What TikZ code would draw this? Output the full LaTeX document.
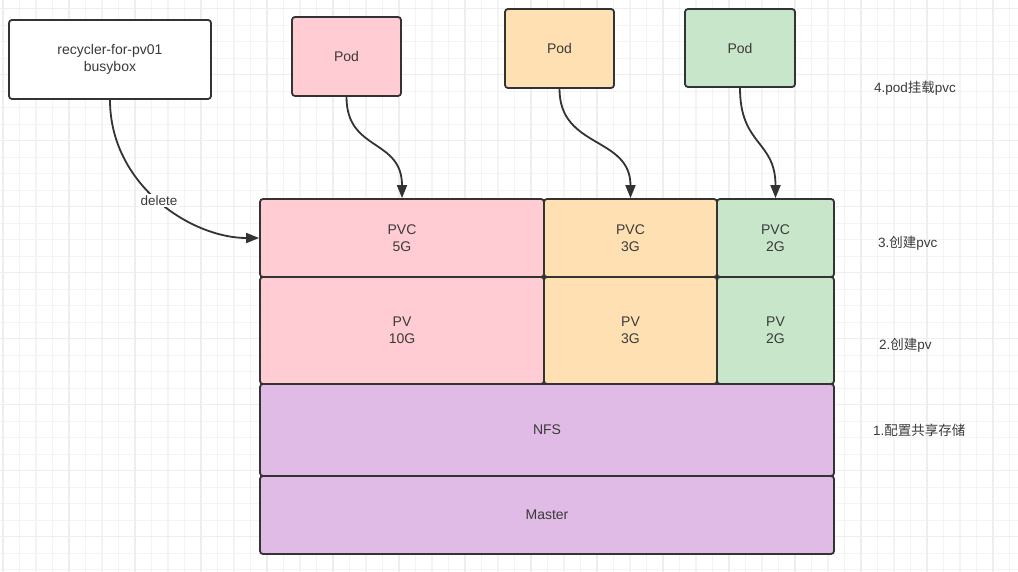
\documentclass[tikz,border=0pt]{standalone}
\usepackage{fontspec}
\setmainfont{Liberation Sans}
\newfontfamily\cjk{Noto Sans CJK SC}
\usetikzlibrary{arrows.meta,calc}
\definecolor{ln}{HTML}{333333}
\definecolor{txt}{HTML}{3A3A3A}
\definecolor{pinkf}{HTML}{FFCCD3}
\definecolor{orangef}{HTML}{FFE0B2}
\definecolor{greenf}{HTML}{C8E6CA}
\definecolor{purplef}{HTML}{E0BBE5}
\definecolor{gridminor}{HTML}{F4F4F4}
\definecolor{gridmajor}{HTML}{EEEEEE}
\tikzset{
  box/.style={draw=ln, line width=1.8pt, rounded corners=3pt, inner sep=0pt,
    align=center, text=txt, font=\fontsize{14}{17.5}\selectfont},
  lbl/.style={anchor=west, inner sep=0pt, text=txt, font=\fontsize{13.5}{16}\selectfont},
  conn/.style={draw=ln, line width=1.8pt, -{Triangle[length=13pt,width=10pt]}},
}
\begin{document}
\begin{tikzpicture}[x=1pt,y=-1pt]
\useasboundingbox (0,0) rectangle (1018,572);
\fill[white] (0,0) rectangle (1018,572);
% grid
\foreach \k in {0,...,61} \draw[gridminor, line width=1.2pt] (3+\k*16.5,0) -- (3+\k*16.5,572);
\foreach \k in {0,...,34} \draw[gridminor, line width=1.2pt] (0,8.7+\k*16.5) -- (1018,8.7+\k*16.5);
\foreach \k in {0,...,15} \draw[gridmajor, line width=1.3pt] (3+\k*66,0) -- (3+\k*66,572);
\foreach \k in {0,...,8} \draw[gridmajor, line width=1.3pt] (0,8.7+\k*66) -- (1018,8.7+\k*66);

% top boxes
\node[box, fill=white, minimum width=202pt, minimum height=79pt] (rec) at (110,59.5) {recycler-for-pv01\\busybox};
\node[box, fill=pinkf, minimum width=109pt, minimum height=79pt] (pod1) at (346.5,56.5) {Pod};
\node[box, fill=orangef, minimum width=109pt, minimum height=79pt] (pod2) at (559.5,48.5) {Pod};
\node[box, fill=greenf, minimum width=110pt, minimum height=78pt] (pod3) at (740,48) {Pod};

% layers
\node[box, fill=pinkf, minimum width=284pt, minimum height=78pt] (pvc1) at (402,238) {PVC\\5G};
\node[box, fill=orangef, minimum width=173pt, minimum height=78pt] (pvc2) at (630.5,238) {PVC\\3G};
\node[box, fill=greenf, minimum width=117pt, minimum height=78pt] (pvc3) at (775.5,238) {PVC\\2G};
\node[box, fill=pinkf, minimum width=284pt, minimum height=107pt] (pv1) at (402,330.5) {PV\\10G};
\node[box, fill=orangef, minimum width=173pt, minimum height=107pt] (pv2) at (630.5,330.5) {PV\\3G};
\node[box, fill=greenf, minimum width=117pt, minimum height=107pt] (pv3) at (775.5,330.5) {PV\\2G};
\node[box, fill=purplef, minimum width=574pt, minimum height=92pt] (nfs) at (547,430) {NFS};
\node[box, fill=purplef, minimum width=574pt, minimum height=78pt] (master) at (547,515) {Master};

% connectors
\draw[conn] (pod1.south) .. controls +(0,55) and +(0,-60) .. (pvc1.north);
\draw[conn] (pod2.south) .. controls +(0,60) and +(0,-62) .. (pvc2.north);
\draw[conn] (pod3.south) .. controls +(0,58) and +(0,-58) .. (pvc3.north);
\draw[conn] (rec.south) .. controls +(0,85) and +(-68,0) .. node[pos=0.5, fill=white, inner sep=1.5pt, text=txt, font=\fontsize{13.5}{16}\selectfont] {delete} (pvc1.west);

% step labels
\node[lbl] (s4) at (874,88) {4.pod{\cjk 挂载}pvc};
\node[lbl] (s3) at (878,243) {3.{\cjk 创建}pvc};
\node[lbl] (s2) at (879,345) {2.{\cjk 创建}pv};
\node[lbl] (s1) at (873,430) {1.{\cjk 配置共享存储}};
\end{tikzpicture}
\end{document}
